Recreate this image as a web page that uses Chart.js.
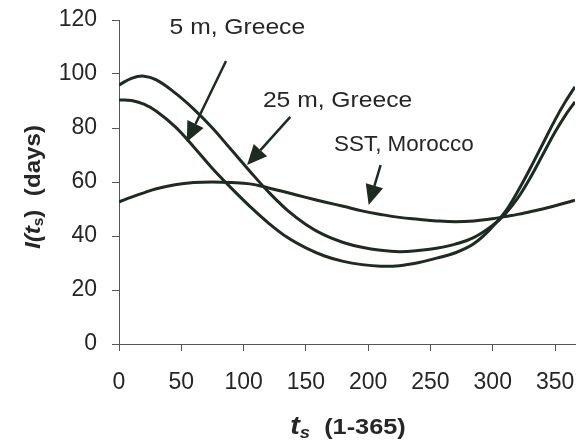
<!DOCTYPE html>
<html>
<head>
<meta charset="utf-8">
<script src="https://cdn.jsdelivr.net/npm/chart.js@4/dist/chart.umd.min.js"></script>
<style>
  html, body { margin: 0; padding: 0; background: #fff; }
  #chart { display: block; }
</style>
</head>
<body>
<canvas id="chart" width="584" height="446"></canvas>
<script>
// day of year (t_s) where the curves were read
const days = [0, 10, 20, 30, 45, 60, 75, 90, 105, 120, 135, 150, 165, 180, 195, 210, 225, 240, 255, 270, 285, 300, 310, 320, 330, 340, 350, 358, 366]

// I(t_s) in days
const greece5m = [90.4, 90.2, 88.8, 86.2, 80.5, 73, 65, 57.8, 51, 44.8, 39.5, 35.6, 32.6, 30.6, 29.4, 28.8, 29, 30.1, 31.8, 33.8, 37.2, 43.5, 49, 56.5, 65, 74, 83, 89.5, 95.3]
const greece25m = [95.9, 98.4, 99.2, 97.8, 93, 87, 80, 72, 64, 56.3, 49.6, 44.3, 40.3, 37.6, 35.8, 34.7, 34.2, 34.6, 35.5, 37, 39.5, 44, 48.2, 54, 61.5, 70, 78.5, 84.5, 89.7]
const sstMorocco = [52.6, 54.4, 56, 57.5, 59, 59.8, 60, 59.8, 59.3, 57.8, 56.1, 54.3, 52.6, 51, 49.3, 48, 46.9, 46.2, 45.6, 45.3, 45.6, 46.4, 47.2, 48, 49, 50, 51.2, 52.2, 53.3]

const xTickValues = [0, 50, 100, 150, 200, 250, 300, 350]
const yTickValues = [0, 20, 40, 60, 80, 100, 120]

// callouts, in data units
const callouts = [
  { text: '5 m, Greece', x: 95, y: 117, stretch: 1.12, from: [85.9, 104.8], to: [54.4, 74.8] },
  { text: '25 m, Greece', x: 175.4, y: 90, stretch: 1.12, from: [137.5, 84.1], to: [102.8, 66.3] },
  { text: 'SST, Morocco', x: 228.6, y: 73.7, stretch: 1.02, from: [210, 66.3], to: [200.4, 51.5] }
]

const ink = '#1e2b21'
const textColor = '#262626'
const font = '"Liberation Sans", Arial, sans-serif'

function toPoints(values) {
  return days.map((d, i) => ({ x: d, y: values[i] }))
}

function lineSet(label, values) {
  return {
    label: label,
    data: toPoints(values),
    borderColor: ink,
    borderWidth: 3,
    pointRadius: 0,
    tension: 0.4,
    fill: false
  }
}

// draws a row of text pieces, each with its own font and vertical shift
function drawPieces(ctx, pieces, cx, baseline, stretch) {
  let total = 0
  pieces.forEach((p) => {
    ctx.font = p.font
    p.w = ctx.measureText(p.text).width
    total += p.w
  })
  ctx.save()
  ctx.translate(cx, baseline)
  ctx.scale(stretch, 1)
  let x = -total / 2
  pieces.forEach((p) => {
    ctx.font = p.font
    ctx.fillText(p.text, x, p.dy || 0)
    x += p.w
  })
  ctx.restore()
}

const annotations = {
  id: 'annotations',
  afterDatasetsDraw(chart) {
    const ctx = chart.ctx
    const xs = chart.scales.x
    const ys = chart.scales.y
    ctx.save()
    ctx.strokeStyle = ink
    callouts.forEach((c) => {
      ctx.save()
      ctx.font = '22px ' + font
      ctx.fillStyle = textColor
      ctx.textAlign = 'center'
      ctx.textBaseline = 'middle'
      ctx.translate(xs.getPixelForValue(c.x), ys.getPixelForValue(c.y))
      ctx.scale(c.stretch, 1)
      ctx.fillText(c.text, 0, 0)
      ctx.restore()

      const x1 = xs.getPixelForValue(c.from[0])
      const y1 = ys.getPixelForValue(c.from[1])
      const x2 = xs.getPixelForValue(c.to[0])
      const y2 = ys.getPixelForValue(c.to[1])
      const ang = Math.atan2(y2 - y1, x2 - x1)
      const head = 20
      const half = 9
      const bx = x2 - head * Math.cos(ang)
      const by = y2 - head * Math.sin(ang)
      ctx.lineWidth = 2.5
      ctx.beginPath()
      ctx.moveTo(x1, y1)
      ctx.lineTo(bx, by)
      ctx.stroke()
      ctx.fillStyle = ink
      ctx.beginPath()
      ctx.moveTo(x2, y2)
      ctx.lineTo(bx + half * Math.sin(ang), by - half * Math.cos(ang))
      ctx.lineTo(bx - half * Math.sin(ang), by + half * Math.cos(ang))
      ctx.closePath()
      ctx.fill()
    })

    // axis titles with subscripts
    ctx.fillStyle = textColor
    ctx.textAlign = 'left'
    ctx.textBaseline = 'alphabetic'
    drawPieces(ctx, [
      { text: 't', font: 'italic bold 25px ' + font },
      { text: 's', font: 'italic bold 16px ' + font, dy: 4 },
      { text: '  (1-365)', font: 'bold 22px ' + font }
    ], 348, 434, 1.15)

    ctx.translate(40, 187)
    ctx.rotate(-Math.PI / 2)
    drawPieces(ctx, [
      { text: 'I(', font: 'italic bold 22px ' + font },
      { text: 't', font: 'italic bold 22px ' + font },
      { text: 's', font: 'bold 14px ' + font, dy: 3 },
      { text: ')  (days)', font: 'bold 22px ' + font }
    ], 0, 0, 1.1)
    ctx.restore()
  }
}

const chart = new Chart(document.getElementById('chart'), {
  type: 'line',
  data: {
    datasets: [
      lineSet('5 m, Greece', greece5m),
      lineSet('25 m, Greece', greece25m),
      lineSet('SST, Morocco', sstMorocco)
    ]
  },
  options: {
    responsive: false,
    devicePixelRatio: 1,
    animation: false,
    events: [],
    layout: { padding: { top: 20, right: 9, left: 0, bottom: 0 } },
    plugins: {
      legend: { display: false },
      tooltip: { enabled: false }
    },
    scales: {
      x: {
        type: 'linear',
        min: 0,
        max: 366,
        afterBuildTicks: (scale) => {
          scale.ticks = xTickValues.map((v) => ({ value: v }))
        },
        afterFit: (scale) => {
          scale.height = 102
          scale.paddingLeft = 0
          scale.paddingRight = 0
        },
        grid: { drawOnChartArea: false, tickLength: 7, color: '#555' },
        border: { color: '#555', width: 1 },
        ticks: {
          padding: 18,
          maxRotation: 0,
          color: textColor,
          font: { family: font, size: 23 }
        }
      },
      y: {
        min: 0,
        max: 120,
        afterBuildTicks: (scale) => {
          scale.ticks = yTickValues.map((v) => ({ value: v }))
        },
        afterFit: (scale) => {
          scale.width = 119
          scale.paddingTop = 0
          scale.paddingBottom = 0
        },
        grid: { drawOnChartArea: false, tickLength: 7, color: '#555' },
        border: { color: '#555', width: 1 },
        ticks: {
          padding: 15,
          color: textColor,
          font: { family: font, size: 23 }
        }
      }
    }
  },
  plugins: [annotations]
})
</script>
</body>
</html>
